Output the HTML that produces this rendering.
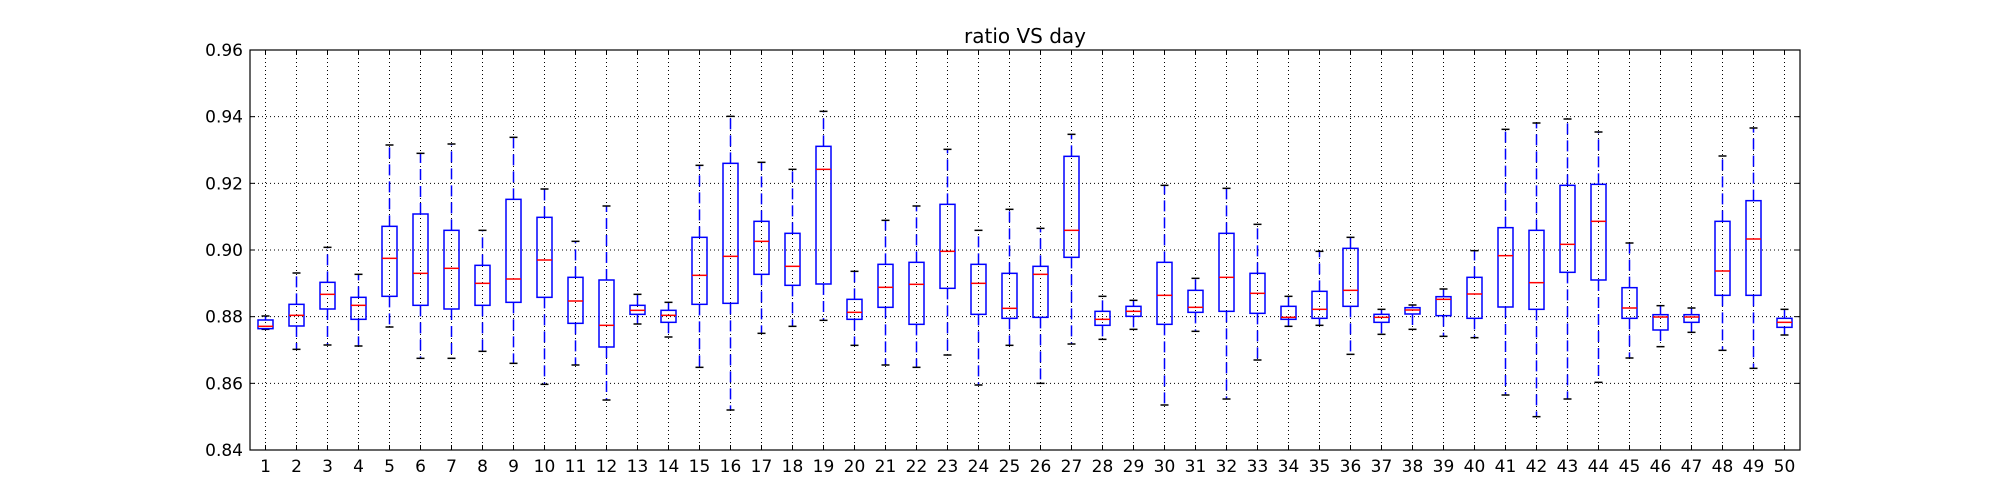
<!DOCTYPE html>
<html><head><meta charset="utf-8"><style>
html,body{margin:0;padding:0;background:#fff;}
svg{display:block;font-family:"DejaVu Sans","Liberation Sans",sans-serif;}
</style></head><body>
<svg id="chart" width="2000" height="500" viewBox="0 0 2000 500">
<rect x="0" y="0" width="2000" height="500" fill="#fff"/>
<text x="1025" y="43" text-anchor="middle" font-size="20" fill="#000">ratio VS day</text>
<g id="grid"></g>
<g id="boxes"></g>
<rect x="250" y="50" width="1550" height="400" fill="none" stroke="#000" stroke-width="1.2"/>
<g id="axes"></g>
</svg>
<script>
const days = [1,2,3,4,5,6,7,8,9,10,11,12,13,14,15,16,17,18,19,20,21,22,23,24,25,26,27,28,29,30,31,32,33,34,35,36,37,38,39,40,41,42,43,44,45,46,47,48,49,50];
const whiskerLow = [.8762,.8702,.8715,.8712,.8769,.8675,.8675,.8696,.866,.8597,.8655,.855,.8778,.8739,.8648,.852,.875,.8771,.8789,.8714,.8655,.8648,.8685,.8595,.8714,.860,.8718,.8732,.8762,.8535,.8756,.8553,.867,.8771,.8774,.8687,.8747,.8762,.8741,.8737,.8565,.85,.8553,.8603,.8676,.871,.8753,.8699,.8645,.8745];
const q1 = [.8764,.8772,.8823,.8792,.8861,.8834,.8823,.8834,.8843,.8858,.878,.8709,.8807,.8783,.8837,.884,.8927,.8894,.8898,.8792,.8828,.8777,.8885,.8807,.8795,.8798,.8978,.8774,.8801,.8777,.8813,.8816,.881,.8792,.8795,.8831,.8783,.8808,.8803,.8795,.8829,.8822,.8933,.891,.8795,.876,.8783,.8864,.8864,.8768];
const medians = [.8771,.8804,.8867,.8834,.8975,.893,.8945,.890,.8913,.897,.8847,.8774,.8819,.8804,.8924,.8981,.9026,.8951,.9242,.8813,.8888,.8897,.8996,.890,.8825,.8927,.9059,.8792,.8816,.8864,.8828,.8918,.887,.8798,.8822,.8879,.8798,.882,.8852,.8868,.8983,.8902,.9017,.9086,.8826,.8799,.8799,.8937,.9033,.8783];
const q3 = [.879,.8837,.8903,.8858,.9071,.9108,.9059,.8954,.9152,.9098,.8918,.891,.8834,.8819,.9038,.926,.9086,.905,.9311,.8852,.8957,.8963,.9137,.8957,.893,.8951,.9281,.8816,.8831,.8963,.8879,.905,.893,.8831,.8876,.9005,.8807,.8827,.886,.8918,.9067,.9059,.9194,.9197,.8887,.8806,.8806,.9086,.9148,.8795];
const whiskerHigh = [.8802,.8931,.9008,.8927,.9315,.929,.9318,.9059,.9338,.9183,.9026,.9132,.8867,.8843,.9254,.9401,.9263,.9242,.9416,.8936,.9089,.9132,.9302,.9059,.9122,.9065,.9347,.8861,.8849,.9194,.8915,.9185,.9077,.8861,.8996,.9038,.8822,.8835,.8883,.8998,.9362,.9381,.9393,.9354,.9021,.8833,.8826,.9282,.9366,.8822];
const yTicks = [0.84,0.86,0.88,0.90,0.92,0.94,0.96];
const yTickLabels = ["0.84","0.86","0.88","0.90","0.92","0.94","0.96"];

const L=250,R=1800,T=50,B=450;
const xMin=0.5,xMax=50.5,yMin=0.84,yMax=0.96;
const xS=v=>L+(v-xMin)/(xMax-xMin)*(R-L);
const yS=v=>B-(v-yMin)/(yMax-yMin)*(B-T);
const NS="http://www.w3.org/2000/svg";
function mk(tag,attrs,parent){const e=document.createElementNS(NS,tag);for(const k in attrs)e.setAttribute(k,attrs[k]);parent.appendChild(e);return e;}
const grid=document.getElementById('grid'),boxes=document.getElementById('boxes'),axes=document.getElementById('axes');

yTicks.forEach((t,i)=>{
  const y=yS(t);
  if(i>0&&i<yTicks.length-1){
    const g=mk('line',{x1:L,x2:R,y1:y,y2:y,stroke:'#000','stroke-width':1,'stroke-dasharray':'1,3'},grid);
    
    
  }
  const tk=mk('line',{x1:L,x2:L+5,y1:y,y2:y,stroke:'#000','stroke-width':1},axes);
  
  
  const tk2=mk('line',{x1:R-5,x2:R,y1:y,y2:y,stroke:'#000','stroke-width':1},axes);
  
  
  const tx=mk('text',{x:L-7,y:y+6,'text-anchor':'end','font-size':17,fill:'#000'},axes);
  tx.textContent=yTickLabels[i];
  
  
});

const bw=15,cw=8;
days.forEach((d,i)=>{
  const x=xS(d);
  const g=mk('line',{x1:x,x2:x,y1:T,y2:B,stroke:'#000','stroke-width':1,'stroke-dasharray':'1,3'},grid);
  
  
  const tk=mk('line',{x1:x,x2:x,y1:B-5,y2:B,stroke:'#000','stroke-width':1},axes);
  
  
  const tk2=mk('line',{x1:x,x2:x,y1:T,y2:T+5,stroke:'#000','stroke-width':1},axes);
  
  
  const tx=mk('text',{x:x,y:B+22,'text-anchor':'middle','font-size':17,fill:'#000'},axes);
  tx.textContent=String(d);
  
  

  const grp=mk('g',{},boxes);
  
  
  const w1=mk('line',{x1:x,x2:x,y1:yS(q3[i]),y2:yS(whiskerHigh[i]),stroke:'#00f','stroke-width':1.5,'stroke-dasharray':'11,6'},grp);
  
  
  const w2=mk('line',{x1:x,x2:x,y1:yS(q1[i]),y2:yS(whiskerLow[i]),stroke:'#00f','stroke-width':1.5,'stroke-dasharray':'11,6'},grp);
  
  
  const c1=mk('line',{x1:x-cw/2,x2:x+cw/2,y1:yS(whiskerHigh[i]),y2:yS(whiskerHigh[i]),stroke:'#000','stroke-width':1.5},grp);
  
  
  const c2=mk('line',{x1:x-cw/2,x2:x+cw/2,y1:yS(whiskerLow[i]),y2:yS(whiskerLow[i]),stroke:'#000','stroke-width':1.5},grp);
  
  
  const bx=mk('rect',{x:x-bw/2,y:yS(q3[i]),width:bw,height:Math.max(1,yS(q1[i])-yS(q3[i])),fill:'none',stroke:'#00f','stroke-width':1.5},grp);
  
  
  const md=mk('line',{x1:x-bw/2,x2:x+bw/2,y1:yS(medians[i]),y2:yS(medians[i]),stroke:'#f00','stroke-width':1.5},grp);
  
  
});
</script>
</body></html>
